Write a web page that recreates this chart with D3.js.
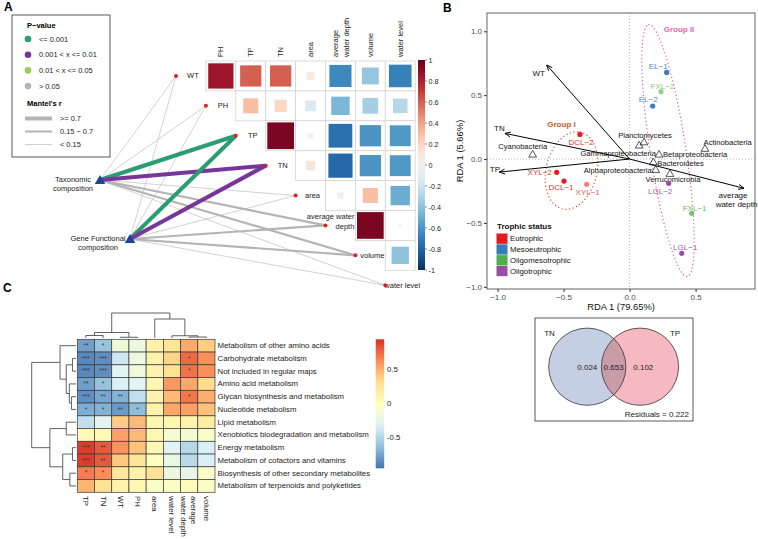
<!DOCTYPE html>
<html><head><meta charset="utf-8">
<script src="https://cdn.jsdelivr.net/npm/d3@7"></script>
<style>body{margin:0;background:#fff} svg{display:block;font-family:"Liberation Sans",Arial,sans-serif}</style>
</head><body><svg id="c" width="758" height="539"></svg>
<script>
// ================= DATA =================
// ---- Panel A: environmental correlations (upper triangle, row var vs later vars)
const envVars = ["WT","PH","TP","TN","area","average water depth","volume","water level"];
const corrWT     = [0.85, 0.60, 0.60, 0.08, -0.65, -0.38, -0.68];
const corrPH     = [0.30, 0.20, -0.15, -0.45, -0.33, -0.28];
const corrTP     = [0.95, -0.04, -0.75, -0.60, -0.58];
const corrTN     = [0.12, -0.78, -0.60, -0.58];
const corrArea   = [-0.05, 0.30, -0.50];
const corrDepth  = [0.95, -0.01];
const corrVolume = [-0.40];
const corrTicks  = [1, 0.8, 0.6, 0.4, 0.2, 0, -0.2, -0.4, -0.6, -0.8, -1];
// ---- Panel A: Mantel tests
const mantelSources = ["Taxonomic composition", "Gene Functional composition"];
const mantelR_Tax  = [0.10, 0.10, 0.80, 0.78, 0.10, 0.45, 0.45, 0.10];
const mantelP_Tax  = [0.20, 0.30, 0.001, 0.004, 0.40, 0.10, 0.10, 0.50];
const mantelR_Gene = [0.10, 0.10, 0.80, 0.78, 0.10, 0.45, 0.45, 0.10];
const mantelP_Gene = [0.25, 0.35, 0.001, 0.005, 0.45, 0.12, 0.12, 0.55];
const pLegend = ["<= 0.001", "0.001 < x <= 0.01", "0.01 < x <= 0.05", "> 0.05"];
const rLegend = [">= 0.7", "0.15 \u2212 0.7", "< 0.15"];
// ---- Panel B: RDA
const siteNames  = ["DCL\u22122","XYL\u22122","DCL\u22121","XYL\u22121","EL\u22121","FXL\u22122","EL\u22122","LGL\u22122","FXL\u22121","LGL\u22121"];
const siteX      = [-0.376, -0.552, -0.497, -0.325, 0.281, 0.238, 0.175, 0.296, 0.470, 0.395];
const siteY      = [0.193, -0.104, -0.172, -0.198, 0.678, 0.527, 0.415, -0.190, -0.425, -0.738];
const siteStatus = ["Eutrophic","Eutrophic","Eutrophic","Eutrophic","Mesoeutrophic","Oligomesotrophic","Mesoeutrophic","Oligotrophic","Oligomesotrophic","Oligotrophic"];
const statusNames = ["Eutrophic","Mesoeutrophic","Oligomesotrophic","Oligotrophic"];
const speciesNames = ["Cyanobacteria","Planctomycetes","Gammaproteobacteria","Actinobacteria","Betaproteobacteria","Bacteroidetes","Alphaproteobacteria","Verrucomicrobia"];
const speciesX = [-0.734, 0.109, 0.073, 0.571, 0.223, 0.180, 0.198, 0.306];
const speciesY = [0.039, 0.135, 0.110, 0.084, 0.039, -0.021, -0.081, -0.112];
const arrowNames = ["WT","TN","TP","average\nwater depth"];
const arrowX = [-0.628, -0.944, -0.987, 0.867];
const arrowY = [0.736, 0.201, -0.102, -0.229];
const rdaXTicks = [-1, -0.5, 0, 0.5];
const rdaYTicks = [-1, -0.5, 0, 0.5, 1];
const groupNames = ["Group I", "Group II"];
const groupCX = [-0.44, 0.291], groupCY = [-0.09, 0.066];
const groupA = [0.308, 0.997], groupB = [0.193, 0.136], groupAngle = [12.4, -8.4];
// ---- Venn
const vennSets = ["TN", "TP"];
const vennParts = ["0.024", "0.653", "0.102"];
const vennResidual = "0.222";
// ---- Panel C: heatmap
const heatCols = ["TP","TN","WT","PH","area","water level","average\nwater depth","volume"];
const heatRows = ["Metabolism of other amino acids","Carbohydrate metabolism","Not included in regular maps","Amino acid metabolism","Glycan biosynthesis and metabolism","Nucleotide metabolism","Lipid metabolism","Xenobiotics biodegradation and metabolism","Energy metabolism","Metabolism of cofactors and vitamins","Biosynthesis of other secondary metabolites","Metabolism of terpenoids and polyketides"];
const heatValues = [
 [-0.78,-0.62,-0.15,-0.20, 0.12, 0.25, 0.52, 0.38],
 [-0.88,-0.85,-0.40,-0.20, 0.12, 0.35, 0.75, 0.62],
 [-0.88,-0.85,-0.30,-0.15, 0.10, 0.30, 0.72, 0.62],
 [-0.78,-0.62,-0.35,-0.30, 0.08, 0.58, 0.52, 0.32],
 [-0.85,-0.75,-0.70,-0.45, 0.10, 0.45, 0.70, 0.50],
 [-0.72,-0.70,-0.80,-0.65, 0.12, 0.52, 0.55, 0.42],
 [-0.45,-0.30, 0.38, 0.45, 0.08, 0.08, 0.12, 0.18],
 [ 0.05, 0.05, 0.55, 0.45, 0.08,-0.10,-0.12,-0.06],
 [ 0.90, 0.80, 0.60, 0.42, 0.06,-0.32,-0.50,-0.35],
 [ 0.90, 0.80, 0.40, 0.25,-0.02,-0.22,-0.48,-0.35],
 [ 0.68, 0.62, 0.22, 0.12, 0.28,-0.20,-0.25,-0.05],
 [ 0.48, 0.30, 0.12, 0.06,-0.05,-0.05, 0.02,-0.05]
];
const heatStars = [
 ["**","*","","","","","",""],
 ["***","***","","","","","*",""],
 ["***","***","","","","","*",""],
 ["**","*","","","","","",""],
 ["***","**","**","","","","*",""],
 ["*","*","**","*","","","",""],
 ["","","","","","","",""],
 ["","","","","","","",""],
 ["***","**","","","","","",""],
 ["***","**","","","","","",""],
 ["*","*","","","","","",""],
 ["","","","","","","",""]
];
const heatMin = -0.96, heatMax = 0.94;
const heatLegendTicks = [0.5, 0, -0.5];
// hclust-style merges (negative = leaf index, 1-based), heights
const rowMerge  = [[-2,-3],[-5,-6],[-4,2],[1,3],[-1,4],[-9,-10],[-11,-12],[6,7],[-7,-8],[9,8],[5,10]];
const rowHeight = [0.08, 0.10, 0.15, 0.22, 0.36, 0.08, 0.14, 0.30, 0.22, 0.59, 1.0];
const colMerge  = [[-3,-4],[-7,-8],[-6,2],[-1,-2],[4,1],[-5,3],[5,6]];
const colHeight = [0.03, 0.04, 0.09, 0.10, 0.22, 0.76, 1.0];

// ================= DRAW =================
const svg = d3.select("#c");
const FONT = "Liberation Sans, Arial, sans-serif";
svg.append("rect").attr("width",758).attr("height",539).attr("fill","#fff");

// panel letters
[["A",4,11],["B",443,12],["C",3,292]].forEach(([t,x,y])=>svg.append("text").attr("x",x).attr("y",y).attr("font-size",12).attr("font-weight","bold").text(t));

// ---------- Panel A ----------
const A = svg.append("g");
const cell = 29.9;
const xA = d3.scaleBand().domain(envVars).range([176, 176 + 8*cell]);
const yA = d3.scaleBand().domain(envVars).range([61, 61 + 8*cell]);
const corrRows = [corrWT, corrPH, corrTP, corrTN, corrArea, corrDepth, corrVolume];
const corrColor = d3.scaleSequential(d3.interpolateRdBu).domain([1, -1]);
const corrCells = [];
corrRows.forEach((row, i) => row.forEach((r, k) => corrCells.push({row: envVars[i], col: envVars[i+1+k], r})));

// mantel links
const pColor = p => p <= 0.001 ? "#2a9d74" : p <= 0.01 ? "#76369a" : p <= 0.05 ? "#9ccc5a" : "#b4b4b4";
const rWidth = r => r >= 0.7 ? 4 : r >= 0.15 ? 2.2 : 0.6;
const srcPos = [[100,180],[130,239]];
const links = [];
[[mantelR_Tax, mantelP_Tax],[mantelR_Gene, mantelP_Gene]].forEach(([R,P], s) => {
  envVars.forEach((v, j) => links.push({s, v, r: R[j], p: P[j]}));
});
links.sort((a,b)=>rWidth(a.r)-rWidth(b.r));
A.selectAll("line.link").data(links).join("line")
  .attr("x1", d=>srcPos[d.s][0]).attr("y1", d=>srcPos[d.s][1])
  .attr("x2", d=>xA(d.v)).attr("y2", d=>yA(d.v)+cell/2)
  .attr("stroke", d=>pColor(d.p)).attr("stroke-width", d=>rWidth(d.r));

// corr cell borders
A.selectAll("rect.cb").data(corrCells).join("rect")
  .attr("x", d=>xA(d.col)).attr("y", d=>yA(d.row)).attr("width", cell).attr("height", cell)
  .attr("fill","#fff").attr("stroke","#d4d4d4").attr("stroke-width",0.8);
A.selectAll("rect.cs").data(corrCells).join("rect")
  .each(function(d){ d.side = (cell-2.5)*Math.sqrt(Math.abs(d.r)); })
  .attr("x", d=>xA(d.col)+(cell-d.side)/2).attr("y", d=>yA(d.row)+(cell-d.side)/2)
  .attr("width", d=>d.side).attr("height", d=>d.side).attr("fill", d=>corrColor(d.r));

// column headers
envVars.slice(1).forEach(v => {
  const g = A.append("text").attr("transform",`translate(${xA(v)+cell/2},57) rotate(-90)`)
    .attr("font-size",7.5).attr("fill","#222").attr("dominant-baseline","central");
  if (v === "average water depth") {
    g.append("tspan").attr("x",0).attr("y",-5).text("average");
    g.append("tspan").attr("x",0).attr("y",5.5).text("water depth");
  } else g.text(v);
});
// diagonal labels + nodes
envVars.forEach(v => {
  const cy = yA(v)+cell/2;
  if (v === "average water depth") {
    const t = A.append("text").attr("font-size",7.5).attr("fill","#222").attr("text-anchor","end");
    t.append("tspan").attr("x", xA(v)+cell-1).attr("y", cy-6).text("average water");
    t.append("tspan").attr("x", xA(v)+cell-1).attr("y", cy+3.5).text("depth");
  } else {
    A.append("text").attr("x", xA(v)+cell/2+2).attr("y", cy).attr("dominant-baseline","central")
      .attr("text-anchor","middle").attr("font-size",7.5).attr("fill","#222").text(v);
  }
  A.append("circle").attr("cx", xA(v)).attr("cy", cy).attr("r",2).attr("fill","#e0201e");
});
// source nodes
const srcLabels = [["Taxonomic","composition"],["Gene Functional","composition"]];
srcPos.forEach(([x,y],s)=>{
  A.append("path").attr("d", d3.symbol(d3.symbolTriangle, 48)()).attr("transform",`translate(${x},${y+1})`).attr("fill","#1d4595");
  const t = A.append("text").attr("font-size",7.5).attr("fill","#222").attr("text-anchor","middle");
  const cx = x - (s===0 ? 27 : 32);
  t.append("tspan").attr("x",cx).attr("y",y+2).text(srcLabels[s][0]);
  t.append("tspan").attr("x",cx).attr("y",y+11).text(srcLabels[s][1]);
});
// corr colorbar
const defs = svg.append("defs");
const gradA = defs.append("linearGradient").attr("id","gA").attr("x1",0).attr("y1",0).attr("x2",0).attr("y2",1);
d3.range(0,1.001,0.05).forEach(t=>gradA.append("stop").attr("offset",t).attr("stop-color",corrColor(1-2*t)));
const yCB = d3.scaleLinear().domain([1,-1]).range([60,270]);
A.append("rect").attr("x",418).attr("y",60).attr("width",7).attr("height",210).attr("fill","url(#gA)");
corrTicks.forEach(t=>{
  A.append("line").attr("x1",425).attr("x2",427).attr("y1",yCB(t)).attr("y2",yCB(t)).attr("stroke","#333").attr("stroke-width",0.6);
  A.append("text").attr("x",428.5).attr("y",yCB(t)).attr("dominant-baseline","central").attr("font-size",7.2).attr("fill","#222").text(t);
});
// legend box
A.append("rect").attr("x",12).attr("y",15).attr("width",98).attr("height",142).attr("fill","#fff").attr("stroke","#333").attr("stroke-width",0.8);
A.append("text").attr("x",27).attr("y",28).attr("font-size",7.5).attr("font-weight","bold").text("P\u2212value");
const pLegColors = ["#2a9d74","#76369a","#9ccc5a","#b4b4b4"];
pLegend.forEach((t,i)=>{
  const y = 39 + i*15.7;
  A.append("circle").attr("cx",28).attr("cy",y).attr("r",3.3).attr("fill",pLegColors[i]);
  A.append("text").attr("x",39).attr("y",y).attr("dominant-baseline","central").attr("font-size",7.4).attr("fill","#222").text(t);
});
A.append("text").attr("x",27).attr("y",106).attr("font-size",7.5).attr("font-weight","bold").text("Mantel's r");
const rLegW = [4, 2, 0.6];
rLegend.forEach((t,i)=>{
  const y = 118.5 + i*13;
  A.append("line").attr("x1",25).attr("x2",52).attr("y1",y).attr("y2",y).attr("stroke","#b4b4b4").attr("stroke-width",rLegW[i]);
  A.append("text").attr("x",60).attr("y",y).attr("dominant-baseline","central").attr("font-size",7.4).attr("fill","#222").text(t);
});

// ---------- Panel B ----------
const B = svg.append("g");
const xB = d3.scaleLinear().domain([-1.08, 0.95]).range([487, 755]);
const yB = d3.scaleLinear().domain([-1.017, 1.143]).range([289, 13]);
B.append("line").attr("x1",xB(0)).attr("x2",xB(0)).attr("y1",13).attr("y2",289).attr("stroke","#aaa").attr("stroke-dasharray","1,2").attr("stroke-width",0.8);
B.append("line").attr("y1",yB(0)).attr("y2",yB(0)).attr("x1",487).attr("x2",755).attr("stroke","#aaa").attr("stroke-dasharray","1,2").attr("stroke-width",0.8);
const fmt = d3.format(".1f");
const xAx = B.append("g").attr("transform","translate(0,289)").call(d3.axisBottom(xB).tickValues(rdaXTicks).tickFormat(fmt).tickSize(3).tickPadding(2));
const yAx = B.append("g").attr("transform","translate(487,0)").call(d3.axisLeft(yB).tickValues(rdaYTicks).tickFormat(fmt).tickSize(3).tickPadding(2));
[xAx,yAx].forEach(a=>{a.select(".domain").remove(); a.selectAll("line").attr("stroke","#333"); a.selectAll("text").attr("font-size",8).attr("fill","#4d4d4d").attr("font-family",FONT);});
B.append("rect").attr("x",487).attr("y",13).attr("width",268).attr("height",276).attr("fill","none").attr("stroke","#555").attr("stroke-width",0.9);
B.append("text").attr("x",621).attr("y",310).attr("text-anchor","middle").attr("font-size",9.4).attr("fill","#111").text("RDA 1 (79.65%)");
B.append("text").attr("transform","translate(463,151) rotate(-90)").attr("text-anchor","middle").attr("font-size",9.4).attr("fill","#111").text("RDA 1 (5.66%)");
// ellipses
const groupColors = ["#c4562e", "#e5589e"];
groupNames.forEach((g,k)=>{
  const th = groupAngle[k]*Math.PI/180;
  const pts = d3.range(0, 2*Math.PI+0.001, Math.PI/90).map(t=>{
    const x = groupCX[k] + groupA[k]*Math.cos(t)*Math.sin(th) + groupB[k]*Math.sin(t)*Math.cos(th);
    const y = groupCY[k] + groupA[k]*Math.cos(t)*Math.cos(th) - groupB[k]*Math.sin(t)*Math.sin(th);
    return [xB(x), yB(y)];
  });
  B.append("path").attr("d", d3.line()(pts)).attr("fill","none").attr("stroke",groupColors[k])
    .attr("stroke-width",1.3).attr("stroke-dasharray","0.1,3.6").attr("stroke-linecap","round");
});
B.append("text").attr("x",561.5).attr("y",126.5).attr("text-anchor","middle").attr("font-size",8).attr("font-weight","bold").attr("fill","#b8602e").text(groupNames[0]);
B.append("text").attr("x",679).attr("y",31.5).attr("text-anchor","middle").attr("font-size",8).attr("font-weight","bold").attr("fill","#e56aa8").text(groupNames[1]);
// arrows
const mk = defs.append("marker").attr("id","arr").attr("viewBox","0 0 10 10").attr("refX",9).attr("refY",5)
  .attr("markerWidth",7).attr("markerHeight",7).attr("orient","auto");
mk.append("path").attr("d","M1,1.5 L9,5 L1,8.5").attr("fill","none").attr("stroke","#000").attr("stroke-width",1.3);
arrowNames.forEach((n,i)=>{
  B.append("line").attr("x1",xB(0)).attr("y1",yB(0)).attr("x2",xB(arrowX[i])).attr("y2",yB(arrowY[i]))
    .attr("stroke","#000").attr("stroke-width",1).attr("marker-end","url(#arr)");
});
const arrowLab = [[-8,10.5],[-5.5,-2],[-4.3,0],[-11,10]];
arrowNames.forEach((n,i)=>{
  const t = B.append("text").attr("font-size",8).attr("fill","#111").attr("text-anchor","middle");
  const x = xB(arrowX[i])+arrowLab[i][0], y = yB(arrowY[i])+arrowLab[i][1];
  n.split("\n").forEach((s,j)=>t.append("tspan").attr("x", x + (j===1?3.5:0)).attr("y", y + j*8.5).text(s));
});
// species
const triangle = d3.symbol(d3.symbolTriangle, 26)();
speciesNames.forEach((n,i)=>{
  B.append("path").attr("d",triangle).attr("transform",`translate(${xB(speciesX[i])},${yB(speciesY[i])+0.8})`)
    .attr("fill","none").attr("stroke","#111").attr("stroke-width",0.7);
});
const spLab = [[-10,-5,"middle"],[1,-4,"middle"],[-21,11,"middle"],[22.7,-3.8,"middle"],[4,3,"start"],[4,4,"start"],[-4,4,"end"],[3,9,"middle"]];
speciesNames.forEach((n,i)=>{
  B.append("text").attr("x",xB(speciesX[i])+spLab[i][0]).attr("y",yB(speciesY[i])+spLab[i][1])
    .attr("text-anchor",spLab[i][2]).attr("font-size",7.6).attr("fill","#111").text(n);
});
// sites
const statusColor = d3.scaleOrdinal().domain(statusNames).range(["#e41a1c","#377eb8","#4daf4a","#984ea3"]);
const siteLabColor = d3.scaleOrdinal().domain(statusNames).range(["#e0392c","#4f87c3","#6cb95f","#a35bab"]);
const siteAlpha = [1,1,1,0.55,1,0.6,1,1,0.75,1];
siteNames.forEach((n,i)=>{
  B.append("circle").attr("cx",xB(siteX[i])).attr("cy",yB(siteY[i])).attr("r",2.6)
    .attr("fill",statusColor(siteStatus[i])).attr("fill-opacity",siteAlpha[i]);
});
const siteLab = [[1,11],[-17,3],[-3,9],[1,10.5],[-8.5,-3],[1.5,-3],[-4.5,-4],[-8.5,10.5],[3,-2.5],[3.5,-3.5]];
siteNames.forEach((n,i)=>{
  B.append("text").attr("x",xB(siteX[i])+siteLab[i][0]).attr("y",yB(siteY[i])+siteLab[i][1])
    .attr("text-anchor","middle").attr("font-size",8).attr("fill",siteLabColor(siteStatus[i])).attr("fill-opacity",siteAlpha[i]<0.7?0.85:1).text(n);
});
// trophic legend
B.append("text").attr("x",497).attr("y",229).attr("font-size",8).attr("font-weight","bold").attr("fill","#111").text("Trophic status");
statusNames.forEach((s,i)=>{
  const y = 233.5 + i*10.8;
  B.append("rect").attr("x",496.5).attr("y",y).attr("width",11).attr("height",10.3).attr("fill",statusColor(s));
  B.append("text").attr("x",510).attr("y",y+5.3).attr("dominant-baseline","central").attr("font-size",7.8).attr("fill","#111").text(s);
});

// ---------- Venn ----------
const V = svg.append("g");
V.append("rect").attr("x",535).attr("y",318).attr("width",158).attr("height",103).attr("fill","#fff").attr("stroke","#333").attr("stroke-width",0.8);
const vc = [[587.3,366.7],[640,366.7]], vr = 38.6;
defs.append("clipPath").attr("id","clipL").append("circle").attr("cx",vc[0][0]).attr("cy",vc[0][1]).attr("r",vr);
V.append("circle").attr("cx",vc[0][0]).attr("cy",vc[0][1]).attr("r",vr).attr("fill","#c5cfe4");
V.append("circle").attr("cx",vc[1][0]).attr("cy",vc[1][1]).attr("r",vr).attr("fill","#f6b9c1");
V.append("circle").attr("cx",vc[1][0]).attr("cy",vc[1][1]).attr("r",vr).attr("fill","#c99ca9").attr("clip-path","url(#clipL)");
vc.forEach(([x,y])=>V.append("circle").attr("cx",x).attr("cy",y).attr("r",vr).attr("fill","none").attr("stroke","#333").attr("stroke-width",0.8));
V.append("text").attr("x",549.5).attr("y",336).attr("text-anchor","middle").attr("font-size",8).attr("fill","#222").text(vennSets[0]);
V.append("text").attr("x",675).attr("y",336).attr("text-anchor","middle").attr("font-size",8).attr("fill","#222").text(vennSets[1]);
[587.3, 613.6, 643.3].forEach((x,i)=>V.append("text").attr("x",x).attr("y",367).attr("dominant-baseline","central").attr("text-anchor","middle").attr("font-size",8).attr("fill","#222").text(vennParts[i]));
V.append("text").attr("x",689).attr("y",416.5).attr("text-anchor","end").attr("font-size",8).attr("fill","#222").text("Residuals = " + vennResidual);

// ---------- Panel C ----------
const C = svg.append("g");
const xC = d3.scaleBand().domain(heatCols).range([77.3, 215]);
const yC = d3.scaleBand().domain(heatRows).range([339.3, 492.3]);
const heatColor = d3.scaleLinear().domain(d3.range(7).map(i=>heatMin + i*(heatMax-heatMin)/6))
  .range(["#4575B4","#91BFDB","#E0F3F8","#FFFFBF","#FEE090","#FC8D59","#D73027"]);
const hcells = [];
heatRows.forEach((r,i)=>heatCols.forEach((c,j)=>hcells.push({r,c,v:heatValues[i][j],s:heatStars[i][j]})));
C.selectAll("rect.h").data(hcells).join("rect")
  .attr("x",d=>xC(d.c)).attr("y",d=>yC(d.r)).attr("width",xC.bandwidth()).attr("height",yC.bandwidth())
  .attr("fill",d=>heatColor(d.v)).attr("stroke","#3a3a3a").attr("stroke-width",0.7);
C.selectAll("text.s").data(hcells.filter(d=>d.s)).join("text")
  .attr("x",d=>xC(d.c)+xC.bandwidth()/2).attr("y",d=>yC(d.r)+yC.bandwidth()/2+2.2)
  .attr("text-anchor","middle").attr("font-size",6.5).attr("fill","#3a3a3a").text(d=>d.s);
heatRows.forEach(r=>C.append("text").attr("x",217.5).attr("y",yC(r)+yC.bandwidth()/2).attr("dominant-baseline","central")
  .attr("font-size",7.8).attr("fill","#222").text(r));
heatCols.forEach(c=>{
  const t = C.append("text").attr("transform",`translate(${xC(c)+xC.bandwidth()/2},496) rotate(90)`)
    .attr("font-size",7.8).attr("fill","#222").attr("dominant-baseline","central");
  const parts = c.split("\n");
  if (parts.length===1) t.text(c);
  else { t.append("tspan").attr("x",0).attr("y",-4.5).text(parts[0]); t.append("tspan").attr("x",0).attr("y",5).text(parts[1]); }
});
// dendrograms
function dendro(merge, heights, leafPos, hScale, horizontal) {
  const pos = [], ht = [];
  const P = k => k < 0 ? leafPos(-k-1) : pos[k-1];
  const H = k => k < 0 ? 0 : ht[k-1];
  const segs = [];
  merge.forEach((m,i)=>{
    const h = heights[i];
    const p1 = P(m[0]), p2 = P(m[1]);
    pos.push((p1+p2)/2); ht.push(h);
    if (horizontal) {
      segs.push([[hScale(H(m[0])),p1],[hScale(h),p1],[hScale(h),p2],[hScale(H(m[1])),p2]]);
    } else {
      segs.push([[p1,hScale(H(m[0]))],[p1,hScale(h)],[p2,hScale(h)],[p2,hScale(H(m[1]))]]);
    }
  });
  return segs;
}
const hCol = d3.scaleLinear().domain([0,1]).range([338,313]);
const hRow = d3.scaleLinear().domain([0,1]).range([76,31.7]);
const colSegs = dendro(colMerge, colHeight, i=>xC(heatCols[i])+xC.bandwidth()/2, hCol, false);
const rowSegs = dendro(rowMerge, rowHeight, i=>yC(heatRows[i])+yC.bandwidth()/2, hRow, true);
C.selectAll("path.d").data(colSegs.concat(rowSegs)).join("path").attr("d",d=>d3.line()(d))
  .attr("fill","none").attr("stroke","#3a3a3a").attr("stroke-width",0.8);
// heat legend
const gradC = defs.append("linearGradient").attr("id","gC").attr("x1",0).attr("y1",1).attr("x2",0).attr("y2",0);
d3.range(0,1.001,0.05).forEach(t=>gradC.append("stop").attr("offset",t).attr("stop-color",heatColor(heatMin+t*(heatMax-heatMin))));
const yHL = d3.scaleLinear().domain([heatMin,heatMax]).range([468.3,339.3]);
C.append("rect").attr("x",375.7).attr("y",339.3).attr("width",8.5).attr("height",129).attr("fill","url(#gC)");
heatLegendTicks.forEach(t=>C.append("text").attr("x",387).attr("y",yHL(t)).attr("dominant-baseline","central")
  .attr("font-size",7.8).attr("fill","#222").text(t===0?"0":String(t)));
</script></body></html>
